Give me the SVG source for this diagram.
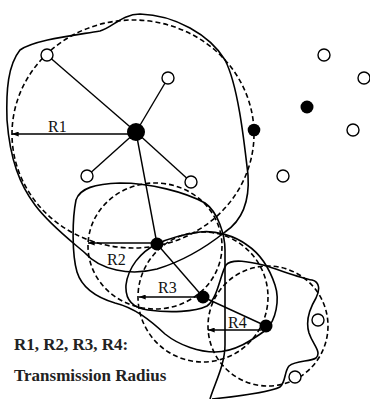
<svg xmlns="http://www.w3.org/2000/svg" width="370" height="399" viewBox="0 0 370 399">
<style>
.s{fill:none;stroke:#000;stroke-width:1.6}
.d{fill:none;stroke:#000;stroke-width:1.6;stroke-dasharray:5 3}
.c{stroke:#000;stroke-width:1.4;fill:none}
.a{stroke:#000;stroke-width:1.3;fill:none;marker-end:url(#ah)}
.o{fill:#fff;stroke:#000;stroke-width:1.4}
.b{fill:#000}
.l{font-family:"Liberation Serif","Times New Roman",serif;font-size:16px;fill:#111}
.t{font-family:"Liberation Serif","Times New Roman",serif;font-size:17px;font-weight:bold;fill:#222}
</style>
<defs>
<marker id="ah" viewBox="0 0 8 6" refX="8" refY="3" markerWidth="7" markerHeight="5" markerUnits="userSpaceOnUse" orient="auto"><path d="M0,0 L8,3 L0,6 z" fill="#000"/></marker>
</defs>
<rect width="370" height="399" fill="#fff"/>
<g id="ranges">
<ellipse class="d" cx="133" cy="134" rx="121" ry="114"/>
<ellipse class="d" cx="155" cy="246" rx="67" ry="63"/>
<circle class="d" cx="203" cy="297" r="65"/>
<circle class="d" cx="268" cy="326" r="60"/>
<path class="s" d="M20,50 C35,40 70,36 100,31 C112,28 122,14 140,14 C175,15 210,35 225,60 C238,85 244,140 248,175 C250,205 240,222 225,232 C205,248 180,262 157,269 C130,276 100,270 85,253 C70,240 50,225 35,205 C20,185 10,160 7,120 C6,90 8,65 20,50 Z"/>
<path class="s" d="M210,399 C214,385 225,365 225,345 L225,250 C225,235 218,212 205,203 C185,192 150,183 120,183 C95,184 80,188 76,200 C72,220 72,255 77,272 C82,288 95,297 115,303 C135,308 150,320 165,334 C180,346 200,352 215,352 C235,352 252,340 266,330"/>
<path class="s" d="M266,330 C276,320 280,300 275,285 C270,270 262,255 247,245 C235,236 215,230 200,232 C180,235 165,240 157,244"/>
<path class="s" d="M157,244 C140,252 128,268 126,285 C125,300 132,308 148,310 C170,313 195,312 207,306 C218,298 220,275 226,265 C232,258 250,262 263,265 C280,270 300,278 312,280 C320,282 320,290 316,298 C310,308 305,320 309,333 C313,345 322,352 316,358 C310,362 296,360 289,366 C284,372 286,382 280,387 C270,392 240,396 212,399"/>
</g>
<g id="connectors">
<line class="c" x1="136" y1="132" x2="47" y2="55"/>
<line class="c" x1="136" y1="132" x2="168" y2="78"/>
<line class="c" x1="136" y1="132" x2="87" y2="176"/>
<line class="c" x1="136" y1="132" x2="191" y2="182"/>
<line class="c" x1="136" y1="132" x2="157" y2="244"/>
<line class="c" x1="157" y1="244" x2="203" y2="297"/>
<line class="c" x1="203" y1="297" x2="266" y2="326"/>
<line class="a" x1="130" y1="134" x2="12" y2="134"/>
<line class="a" x1="152" y1="243" x2="88" y2="243"/>
<line class="a" x1="198" y1="297" x2="139" y2="297"/>
<line class="a" x1="261" y1="330" x2="208" y2="330"/>
</g>
<g id="n-o1"><circle class="o" cx="47" cy="55" r="6"/></g>
<g id="n-o2"><circle class="o" cx="168" cy="78" r="6"/></g>
<g id="n-o3"><circle class="o" cx="87" cy="176" r="6"/></g>
<g id="n-o4"><circle class="o" cx="191" cy="182" r="6"/></g>
<g id="n-o5"><circle class="o" cx="283" cy="176" r="6"/></g>
<g id="n-o6"><circle class="o" cx="324" cy="55" r="6"/></g>
<g id="n-o7"><circle class="o" cx="364" cy="78" r="6"/></g>
<g id="n-o8"><circle class="o" cx="353" cy="130" r="6"/></g>
<g id="n-o9"><circle class="o" cx="318" cy="320" r="6"/></g>
<g id="n-o10"><circle class="o" cx="295" cy="377" r="6"/></g>
<g id="n-b1"><circle class="b" cx="254" cy="130" r="6.3"/></g>
<g id="n-b2"><circle class="b" cx="307" cy="107" r="6.5"/></g>
<g id="n1"><circle class="b" cx="136" cy="132" r="9"/></g>
<g id="n2"><circle class="b" cx="157" cy="244" r="6.5"/></g>
<g id="n3"><circle class="b" cx="203" cy="297" r="6.5"/></g>
<g id="n4"><circle class="b" cx="266" cy="326" r="6.5"/></g>
<g id="labels">
<text class="l" x="48" y="132">R1</text>
<text class="l" x="107" y="265">R2</text>
<text class="l" x="158" y="293">R3</text>
<text class="l" x="228" y="328">R4</text>
<text class="t" x="14" y="350">R1, R2, R3, R4:</text>
<text class="t" x="14" y="381">Transmission Radius</text>
</g>
</svg>
